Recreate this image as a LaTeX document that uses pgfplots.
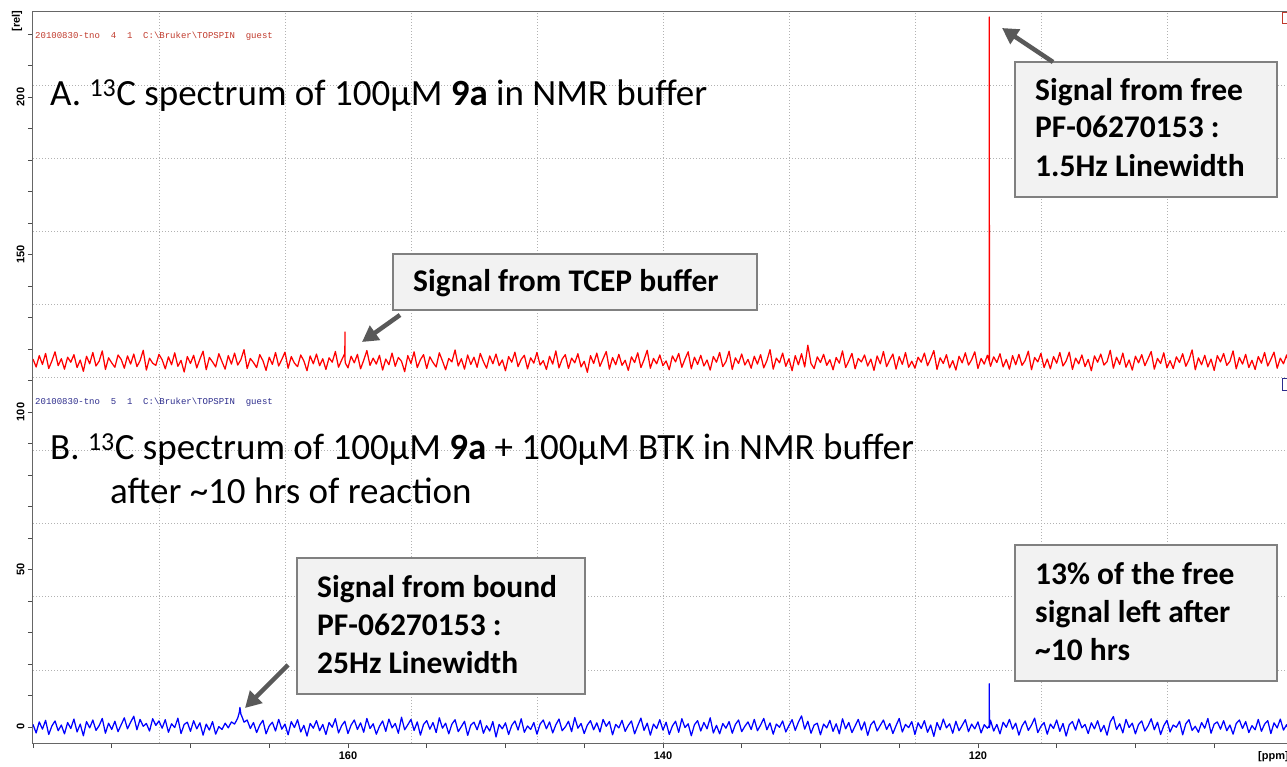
\documentclass[border=0pt]{standalone}
\usepackage{pgfplots}
\pgfplotsset{compat=1.18}
\usepackage{fontspec}
\setmainfont{Carlito}
\newfontfamily\monofont{Liberation Mono}
\newfontfamily\tickfont{Liberation Sans}
\usetikzlibrary{arrows.meta}
\definecolor{boxfill}{HTML}{F2F2F2}
\definecolor{boxline}{HTML}{808080}
\definecolor{arrowgray}{HTML}{595959}
\definecolor{specred}{HTML}{FF0000}
\definecolor{specblue}{HTML}{0000FF}
\definecolor{hdrred}{HTML}{C0392B}
\definecolor{hdrblue}{HTML}{2C2C8C}
\begin{document}
\begin{tikzpicture}[x=1pt,y=1pt]
\useasboundingbox (0,0) rectangle (1287,766);
% TopSpin-style grid (10 divisions)
\foreach \k in {1,...,9} {
  \draw[black!30, line width=0.8pt, dash pattern=on 1pt off 2pt] ({33+126*\k},23) -- ({33+126*\k},754);
  \draw[black!30, line width=0.8pt, dash pattern=on 1pt off 2pt] (33,{754-73.1*\k}) -- (1293,{754-73.1*\k});
}
\begin{axis}[
  at={(33pt,23pt)}, anchor=south west, scale only axis,
  width=1260pt, height=731pt,
  x dir=reverse, xmin=100, xmax=180, ymin=-5.1, ymax=227,
  axis line style={black!60, line width=1pt},
  xtick={120,140,160}, minor xtick={100,105,...,180},
  ytick={0,50,...,200}, minor ytick={0,10,...,220},
  tick align=outside, xtick pos=bottom, ytick pos=left,
  major tick length=5pt, minor tick length=5pt,
  tick style={black!70, line width=0.8pt},
  tick label style={font=\tickfont\bfseries\fontsize{11}{11}\selectfont},
  /pgf/number format/assume math mode=true,
  yticklabel style={rotate=90, anchor=south},
]
\addplot[specred, line width=1.25pt, line join=round] coordinates {
(180.0,116.8)(179.8,114.3)(179.6,117.9)(179.4,115.1)(179.2,118.6)(179.0,113.8)(178.8,116.2)(178.6,119.1)(178.4,114.7)(178.2,116.9)
(178.0,113.6)(177.8,117.4)(177.6,115.8)(177.4,118.2)(177.2,114.1)(177.0,116.5)(176.8,112.9)(176.6,117.7)(176.4,115.3)(176.2,118.9)
(176.0,114.6)(175.8,116.1)(175.6,119.4)(175.4,113.5)(175.2,117.2)(175.0,115.6)(174.8,114.2)(174.6,118.1)(174.4,116.7)(174.2,113.9)
(174.0,117.8)(173.8,115.2)(173.6,118.4)(173.4,114.4)(173.2,116.3)(173.0,119.6)(172.8,113.3)(172.6,117.1)(172.4,115.5)(172.2,114.8)
(172.0,118.3)(171.8,116.6)(171.6,113.7)(171.4,117.5)(171.2,115.0)(171.0,118.8)(170.8,114.5)(170.6,116.4)(170.4,112.7)(170.2,117.6)
(170.0,115.4)(169.8,118.0)(169.6,114.0)(169.4,116.8)(169.2,119.3)(169.0,113.4)(168.8,117.3)(168.6,115.9)(168.4,114.3)(168.2,118.5)
(168.0,116.0)(167.8,113.6)(167.6,117.9)(167.4,115.2)(167.2,118.7)(167.0,114.9)(166.8,116.6)(166.6,119.8)(166.4,113.8)(166.2,117.0)
(166.0,115.7)(165.8,114.1)(165.6,118.2)(165.4,116.3)(165.2,113.2)(165.0,117.4)(164.8,115.1)(164.6,118.9)(164.4,114.6)(164.2,116.7)
(164.0,119.0)(163.8,113.9)(163.6,117.6)(163.4,115.5)(163.2,114.4)(163.0,118.1)(162.8,116.2)(162.6,113.1)(162.4,117.8)(162.2,115.3)
(162.0,118.4)(161.8,114.7)(161.6,116.9)(161.4,113.5)(161.2,117.2)(161.0,115.8)(160.8,119.2)(160.6,114.2)(160.4,116.5)(160.2,118.6)
(160.19,125.4)(160.18,115.7)
(160.0,114.0)(159.8,117.7)(159.6,115.6)(159.4,118.3)(159.2,113.7)(159.0,116.4)(158.8,119.5)(158.6,114.8)(158.4,117.1)(158.2,115.2)
(158.0,118.0)(157.8,113.3)(157.6,116.8)(157.4,115.0)(157.2,118.7)(157.0,114.5)(156.8,117.3)(156.6,116.1)(156.4,112.8)(156.2,117.9)
(156.0,115.4)(155.8,119.1)(155.6,114.1)(155.4,116.6)(155.2,118.2)(155.0,113.8)(154.8,117.5)(154.6,115.7)(154.4,114.3)(154.2,118.8)
(154.0,116.2)(153.8,113.4)(153.6,117.0)(153.4,115.9)(153.2,119.7)(153.0,114.6)(152.8,116.9)(152.6,113.6)(152.4,118.1)(152.2,115.1)
(152.0,117.4)(151.8,114.2)(151.6,118.6)(151.4,116.0)(151.2,113.9)(151.0,117.8)(150.8,115.3)(150.6,118.4)(150.4,114.7)(150.2,116.5)
(150.0,113.1)(149.8,117.6)(149.6,115.8)(149.4,119.0)(149.2,114.4)(149.0,116.7)(148.8,118.0)(148.6,113.7)(148.4,117.2)(148.2,115.5)
(148.0,118.9)(147.8,114.9)(147.6,116.3)(147.4,113.5)(147.2,117.7)(147.0,115.2)(146.8,119.4)(146.6,114.0)(146.4,116.8)(146.2,118.2)
(146.0,113.8)(145.8,117.1)(145.6,115.6)(145.4,118.5)(145.2,114.3)(145.0,116.1)(144.8,112.6)(144.6,117.9)(144.4,115.4)(144.2,118.7)
(144.0,114.5)(143.8,116.9)(143.6,119.2)(143.4,113.6)(143.2,117.3)(143.0,115.0)(142.8,118.3)(142.6,114.8)(142.4,116.4)(142.2,113.2)
(142.0,117.5)(141.8,115.7)(141.6,118.8)(141.4,114.1)(141.2,116.6)(141.0,119.6)(140.8,113.9)(140.6,117.0)(140.4,115.3)(140.2,118.1)
(140.0,114.7)(139.8,116.2)(139.6,113.4)(139.4,117.8)(139.2,115.9)(139.0,118.6)(138.8,114.2)(138.6,116.8)(138.4,119.1)(138.2,113.7)
(138.0,117.4)(137.8,115.1)(137.6,118.0)(137.4,114.6)(137.2,116.5)(137.0,113.3)(136.8,117.6)(136.6,115.8)(136.4,118.9)(136.2,114.4)
(136.0,116.0)(135.8,119.3)(135.6,113.5)(135.4,117.2)(135.2,115.4)(135.0,118.4)(134.8,114.9)(134.6,116.7)(134.4,113.9)(134.2,117.7)
(134.0,115.2)(133.8,118.2)(133.6,114.0)(133.4,116.3)(133.2,119.8)(133.0,113.6)(132.8,117.1)(132.6,115.6)(132.4,118.7)(132.2,114.5)
(132.0,116.9)(131.8,113.1)(131.6,117.9)(131.4,115.0)(131.2,118.5)(131.0,114.3)(130.8,121.2)(130.6,115.4)(130.4,113.8)(130.2,117.5)
(130.0,115.7)(129.8,118.3)(129.6,114.8)(129.4,116.6)(129.2,113.4)(129.0,117.3)(128.8,115.5)(128.6,119.4)(128.4,114.1)(128.2,116.2)
(128.0,118.6)(127.8,113.7)(127.6,117.0)(127.4,115.9)(127.2,118.1)(127.0,114.6)(126.8,116.8)(126.6,113.2)(126.4,117.8)(126.2,115.3)
(126.0,119.2)(125.8,114.4)(125.6,116.5)(125.4,118.4)(125.2,113.6)(125.0,117.6)(124.8,115.1)(124.6,118.9)(124.4,114.2)(124.2,116.1)
(124.0,113.9)(123.8,117.4)(123.6,115.8)(123.4,118.7)(123.2,114.7)(123.0,116.9)(122.8,119.5)(122.6,113.5)(122.4,117.2)(122.2,115.4)
(122.0,118.2)(121.8,114.0)(121.6,116.3)(121.4,113.3)(121.2,117.7)(121.0,115.6)(120.8,118.8)(120.6,114.9)(120.4,116.6)(120.2,119.1)
(120.0,113.8)(119.8,117.0)(119.6,115.2)(119.4,118.0)(119.29,116.2)(119.28,225.4)(119.27,115.9)(119.2,114.5)(119.0,117.5)(118.8,115.7)(118.6,118.5)(118.4,114.3)(118.2,116.7)
(118.0,113.6)(117.8,117.9)(117.6,115.0)(117.4,118.3)(117.2,114.8)(117.0,116.4)(116.8,119.3)(116.6,113.4)(116.4,117.3)(116.2,115.9)
(116.0,118.6)(115.8,114.1)(115.6,116.8)(115.4,113.7)(115.2,117.6)(115.0,115.5)(114.8,118.9)(114.6,114.6)(114.4,116.2)(114.2,119.0)
(114.0,113.5)(113.8,117.1)(113.6,115.3)(113.4,118.1)(113.2,114.4)(113.0,116.7)(112.8,113.1)(112.6,117.8)(112.4,115.8)(112.2,118.4)
(112.0,114.9)(111.8,116.0)(111.6,119.6)(111.4,113.9)(111.2,117.4)(111.0,115.1)(110.8,118.7)(110.6,114.2)(110.4,116.5)(110.2,113.3)
(110.0,117.7)(109.8,115.6)(109.6,118.2)(109.4,114.7)(109.2,116.9)(109.0,119.2)(108.8,113.6)(108.6,117.0)(108.4,115.4)(108.2,118.8)
(108.0,114.0)(107.8,116.3)(107.6,113.8)(107.4,117.5)(107.2,115.7)(107.0,118.5)(106.8,114.5)(106.6,116.6)(106.4,119.7)(106.2,113.4)
(106.0,117.2)(105.8,115.0)(105.6,118.0)(105.4,114.3)(105.2,116.8)(105.0,113.2)(104.8,117.9)(104.6,115.9)(104.4,118.6)(104.2,114.8)
(104.0,116.1)(103.8,119.4)(103.6,113.7)(103.4,117.3)(103.2,115.2)(103.0,118.3)(102.8,114.1)(102.6,116.4)(102.4,113.5)(102.2,117.6)
(102.0,115.5)(101.8,118.9)(101.6,114.6)(101.4,116.7)(101.2,119.0)(101.0,113.9)(100.8,117.1)(100.6,115.3)(100.4,118.1)(100.2,114.4)
(100.0,116.2)
};
\addplot[specblue, line width=1.25pt, line join=round] coordinates {
(180.0,0.8)(179.8,-1.9)(179.6,1.6)(179.4,-0.7)(179.2,2.1)(179.0,-2.4)(178.8,0.3)(178.6,1.9)(178.4,-1.2)(178.2,0.6)
(178.0,-2.2)(177.8,1.4)(177.6,-0.5)(177.4,2.5)(177.2,-1.6)(177.0,0.9)(176.8,-2.8)(176.6,1.7)(176.4,-0.3)(176.2,2.2)
(176.0,-1.1)(175.8,0.4)(175.6,2.7)(175.4,-2.0)(175.2,1.2)(175.0,-0.8)(174.8,1.8)(174.6,-1.5)(174.4,0.7)(174.2,2.9)
(174.0,-0.6)(173.8,1.5)(173.6,3.4)(173.4,-0.9)(173.2,2.4)(173.0,0.2)(172.8,1.1)(172.6,-1.3)(172.4,2.6)(172.2,0.5)
(172.0,1.9)(171.8,-0.4)(171.6,2.3)(171.4,-1.7)(171.2,1.0)(171.0,-0.2)(170.8,2.8)(170.6,-2.1)(170.4,0.8)(170.2,1.5)
(170.0,-1.4)(169.8,2.0)(169.6,-0.6)(169.4,1.3)(169.2,-2.6)(169.0,0.9)(168.8,-1.0)(168.6,1.7)(168.4,-2.3)(168.2,0.1)
(168.0,-0.8)(167.8,1.2)(167.6,-0.3)(167.4,1.6)(167.2,0.9)(167.0,2.8)(166.9,4.6)(166.86,6.2)(166.8,4.1)(166.7,2.9)(166.6,1.5)(166.4,2.2)(166.2,-0.5)
(166.0,1.4)(165.8,-1.8)(165.6,0.6)(165.4,2.1)(165.2,-2.2)(165.0,0.3)(164.8,1.5)(164.6,-1.3)(164.4,2.4)(164.2,-0.7)
(164.0,0.9)(163.8,-2.5)(163.6,1.7)(163.4,-0.2)(163.2,2.3)(163.0,-1.6)(162.8,0.5)(162.6,-2.9)(162.4,1.1)(162.2,-0.4)
(162.0,2.0)(161.8,-1.2)(161.6,0.8)(161.4,-2.4)(161.2,1.4)(161.0,-0.1)(160.8,2.6)(160.6,-1.9)(160.4,0.4)(160.2,1.8)
(160.0,-2.1)(159.8,0.6)(159.6,2.2)(159.4,-0.8)(159.2,1.3)(159.0,-1.7)(158.8,2.7)(158.6,-0.5)(158.4,1.0)(158.2,-2.3)
(158.0,0.2)(157.8,1.9)(157.6,-1.4)(157.4,2.5)(157.2,-0.3)(157.0,1.1)(156.8,-2.0)(156.6,3.1)(156.4,-0.9)(156.2,0.7)
(156.0,2.4)(155.8,-1.1)(155.6,1.6)(155.4,-2.6)(155.2,0.8)(155.0,2.0)(154.8,-0.7)(154.6,1.4)(154.4,-1.8)(154.2,2.9)
(154.0,-0.4)(153.8,1.2)(153.6,-2.2)(153.4,0.9)(153.2,2.3)(153.0,-1.5)(152.8,0.1)(152.6,1.8)(152.4,-2.7)(152.2,0.6)
(152.0,1.5)(151.8,-0.9)(151.6,2.1)(151.4,-2.0)(151.2,0.4)(151.0,-1.3)(150.8,1.7)(150.6,-3.2)(150.4,0.8)(150.2,-0.6)
(150.0,1.3)(149.8,-2.4)(149.6,0.5)(149.4,1.9)(149.2,-1.0)(149.0,2.6)(148.8,-1.7)(148.6,0.3)(148.4,-0.8)(148.2,1.4)
(148.0,-2.3)(147.8,0.9)(147.6,2.2)(147.4,-0.6)(147.2,1.6)(147.0,-1.9)(146.8,0.7)(146.6,2.5)(146.4,-1.2)(146.2,0.0)
(146.0,1.8)(145.8,-1.5)(145.6,3.0)(145.4,-0.4)(145.2,1.1)(145.0,-2.1)(144.8,0.6)(144.6,2.0)(144.4,-0.9)(144.2,1.3)
(144.0,-1.6)(143.8,2.4)(143.6,0.2)(143.4,1.7)(143.2,-2.5)(143.0,0.8)(142.8,-0.3)(142.6,2.1)(142.4,-1.4)(142.2,0.5)
(142.0,1.9)(141.8,-2.2)(141.6,0.4)(141.4,2.8)(141.2,-1.1)(141.0,1.2)(140.8,-2.6)(140.6,0.9)(140.4,-0.5)(140.2,2.3)
(140.0,-1.0)(139.8,1.5)(139.6,-2.4)(139.4,0.3)(139.2,1.8)(139.0,-1.7)(138.8,2.6)(138.6,-0.2)(138.4,1.0)(138.2,-2.8)
(138.0,0.7)(137.8,2.0)(137.6,-1.3)(137.4,1.4)(137.2,-0.6)(137.0,2.9)(136.8,-1.9)(136.6,0.5)(136.4,-2.2)(136.2,1.1)
(136.0,-0.4)(135.8,1.7)(135.6,-2.0)(135.4,0.8)(135.2,2.2)(135.0,-1.5)(134.8,0.2)(134.6,1.6)(134.4,-0.8)(134.2,2.4)
(134.0,-1.2)(133.8,0.6)(133.6,2.7)(133.4,-0.9)(133.2,1.3)(133.0,-2.3)(132.8,0.9)(132.6,-0.1)(132.4,1.9)(132.2,-1.6)
(132.0,0.4)(131.8,2.3)(131.6,-1.1)(131.4,1.5)(131.2,3.5)(131.0,-0.7)(130.8,1.8)(130.6,-2.0)(130.4,0.6)(130.2,1.2)
(130.0,-2.5)(129.8,0.9)(129.6,-0.3)(129.4,2.1)(129.2,-1.4)(129.0,1.0)(128.8,-2.2)(128.6,2.6)(128.4,-0.6)(128.2,1.4)
(128.0,-1.8)(127.8,0.3)(127.6,2.4)(127.4,-1.0)(127.2,1.6)(127.0,-2.7)(126.8,0.7)(126.6,1.9)(126.4,-1.3)(126.2,0.5)
(126.0,2.2)(125.8,-0.8)(125.6,1.1)(125.4,-2.1)(125.2,0.4)(125.0,2.7)(124.8,-1.6)(124.6,0.8)(124.4,-0.2)(124.2,1.7)
(124.0,-2.4)(123.8,1.3)(123.6,-0.5)(123.4,2.0)(123.2,-1.7)(123.0,0.6)(122.8,-3.0)(122.6,1.4)(122.4,-0.9)(122.2,2.5)
(122.0,-0.3)(121.8,1.0)(121.6,-2.0)(121.4,1.8)(121.2,-1.2)(121.0,0.5)(120.8,2.3)(120.6,-1.5)(120.4,0.9)(120.2,-0.6)
(120.0,1.6)(119.8,-1.9)(119.6,0.7)(119.4,-0.4)(119.29,0.3)(119.28,13.7)(119.27,-0.2)(119.2,2.1)(119.0,-1.3)(118.8,0.8)(118.6,-2.2)(118.4,1.5)(118.2,-0.1)
(118.0,2.4)(117.8,-0.7)(117.6,1.2)(117.4,-2.6)(117.2,0.3)(117.0,1.9)(116.8,-1.1)(116.6,0.6)(116.4,2.8)(116.2,-1.8)
(116.0,0.2)(115.8,1.4)(115.6,-2.3)(115.4,0.9)(115.2,-0.5)(115.0,2.2)(114.8,-1.4)(114.6,1.1)(114.4,-2.9)(114.2,0.7)
(114.0,1.7)(113.8,-1.0)(113.6,2.5)(113.4,-0.3)(113.2,0.8)(113.0,-2.1)(112.8,1.3)(112.6,-0.6)(112.4,2.0)(112.2,-1.5)
(112.0,0.5)(111.8,-2.6)(111.6,1.6)(111.4,3.3)(111.2,-0.8)(111.0,1.0)(110.8,-1.9)(110.6,2.4)(110.4,-0.2)(110.2,1.2)
(110.0,-2.2)(109.8,0.8)(109.6,1.9)(109.4,-1.3)(109.2,0.3)(109.0,2.6)(108.8,-0.9)(108.6,1.5)(108.4,-2.4)(108.2,0.4)
(108.0,2.1)(107.8,-1.6)(107.6,0.6)(107.4,-0.1)(107.2,1.8)(107.0,-2.5)(106.8,1.0)(106.6,2.3)(106.4,-1.1)(106.2,0.2)
(106.0,-1.7)(105.8,1.4)(105.6,-0.4)(105.4,2.7)(105.2,-2.0)(105.0,0.9)(104.8,1.6)(104.6,-0.7)(104.4,2.0)(104.2,-1.2)
(104.0,0.6)(103.8,-2.3)(103.6,1.1)(103.4,2.2)(103.2,-0.5)(103.0,1.7)(102.8,-1.8)(102.6,0.4)(102.4,-0.9)(102.2,2.4)
(102.0,-1.4)(101.8,0.9)(101.6,2.0)(101.4,-2.1)(101.2,1.3)(101.0,-0.3)(100.8,2.5)(100.6,-1.0)(100.4,0.7)(100.2,-1.9)
(100.0,0.8)
};
\end{axis}
% axis unit labels
\node[rotate=90, font=\tickfont\bfseries\fontsize{11}{11}\selectfont] at (17,745) {[rel]};
\node[anchor=west, font=\tickfont\bfseries\fontsize{11}{11}\selectfont, inner sep=0pt] at (1258,9) {[ppm]};
% TopSpin headers
\node[anchor=base west, text=hdrred, font=\monofont\fontsize{9}{9}\selectfont, inner sep=0pt] at (35,727) {20100830-tno~~4~~1~~C:\textbackslash Bruker\textbackslash TOPSPIN~~guest};
\node[anchor=base west, text=hdrblue, font=\monofont\fontsize{9}{9}\selectfont, inner sep=0pt] at (35,361) {20100830-tno~~5~~1~~C:\textbackslash Bruker\textbackslash TOPSPIN~~guest};
\draw[hdrred, line width=0.8pt] (1282,743) rectangle (1292,754);
\draw[hdrblue, line width=0.8pt] (1282,376) rectangle (1292,388);
% panel titles
\node[anchor=base west, inner sep=0pt, font=\fontsize{37}{37}\selectfont] at (50,660) {A. \textsuperscript{13}C spectrum of 100µM \textbf{9a} in NMR buffer};
\node[anchor=base west, inner sep=0pt, font=\fontsize{37}{37}\selectfont] at (50,306) {B. \textsuperscript{13}C spectrum of 100µM \textbf{9a} + 100µM BTK in NMR buffer};
\node[anchor=base west, inner sep=0pt, font=\fontsize{37}{37}\selectfont] at (110,262) {after \textasciitilde10 hrs of reaction};
% callout boxes
\tikzset{cbox/.style={fill=boxfill, draw=boxline, line width=1.6pt},
         ctext/.style={anchor=base west, inner sep=0pt, font=\bfseries\fontsize{31.5}{31.5}\selectfont},
         carrow/.style={arrowgray, line width=4.5pt, -{Triangle[length=16pt,width=17pt]}}}
\draw[cbox] (1015,569) rectangle (1277,704);
\node[ctext] at (1035,665) {Signal from free};
\node[ctext] at (1035,628) {PF-06270153 :};
\node[ctext] at (1035,589) {1.5Hz Linewidth};
\draw[cbox] (393,456) rectangle (757,512);
\node[ctext] at (413,474) {Signal from TCEP buffer};
\draw[cbox] (297,72) rectangle (585,208);
\node[ctext] at (317,169) {Signal from bound};
\node[ctext] at (317,131) {PF-06270153 :};
\node[ctext] at (317,93) {25Hz Linewidth};
\draw[cbox] (1015,85) rectangle (1277,221);
\node[ctext] at (1035,182) {13\% of the free};
\node[ctext] at (1035,144) {signal left after};
\node[ctext] at (1035,106) {\textasciitilde10 hrs};
% arrows
\draw[carrow] (1053,704) -- (1002,738);
\draw[carrow] (400,451) -- (362,424);
\draw[carrow] (288,101) -- (245,58);
\end{tikzpicture}
\end{document}
